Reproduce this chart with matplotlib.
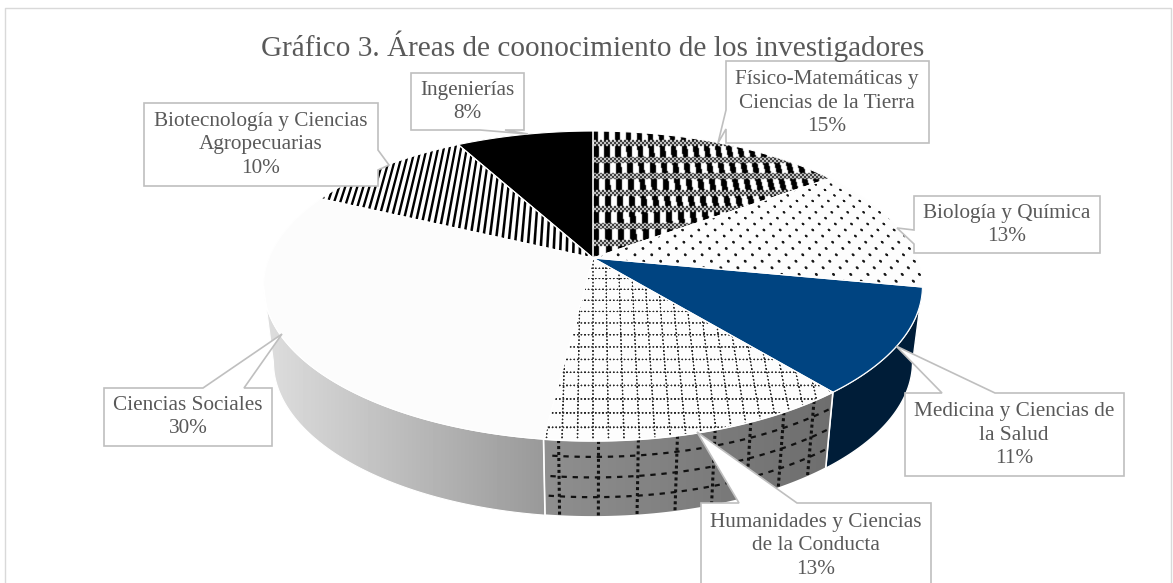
import numpy as np
from matplotlib import pyplot as plt
from matplotlib.patches import Polygon

plt.rcParams['font.family'] = ['Liberation Serif', 'DejaVu Serif']

W, H = 1173, 583

title = "Gráfico 3. Áreas de coonocimiento de los investigadores"
categories = ["Físico-Matemáticas y\nCiencias de la Tierra",
              "Biología y Química",
              "Medicina y Ciencias de\nla Salud",
              "Humanidades y Ciencias\nde la Conducta",
              "Ciencias Sociales",
              "Biotecnología y Ciencias\nAgropecuarias",
              "Ingenierías"]
values = [15, 13, 11, 13, 30, 10, 8]

# the pie is a tilted disc, so map the unit circle through a perspective
CX, APEX_Y = 593, 258
A, C, D = -103.3, 0.1806, 324.0
DEPTH, SHRINK = 76, 0.97
T_LEFT = 259.6  # angle of the leftmost point of the disc


def project(u, v):
    w = 1 + C * v
    return CX + D * u / w, (A * v + APEX_Y) / w


def arc(t0, t1, n=80):
    t = np.radians(np.linspace(t0, t1, n))
    return project(np.sin(t), np.cos(t))


def lower(x, y):
    return CX + (x - CX) * SHRINK, y + DEPTH


# screen pixel grid and the disc coordinates of each pixel
xx, yy = np.meshgrid(np.arange(W) + 0.5, np.arange(H) + 0.5)
vv = (yy - APEX_Y) / (A - C * yy)
uu = (xx - CX) * (1 + C * vv) / D


def soften(img):
    out = img * 0.5
    for ax_, s in [(0, 1), (0, -1), (1, 1), (1, -1)]:
        out = out + np.roll(img, s, axis=ax_) * 0.125
    return out


def tex_fisico():
    img = np.where((uu / 0.0395) % 1 < 0.5, 0.0, 1.0)
    band = ((yy - 140) % 16.6) < 6
    check = ((xx // 2 + yy // 2) % 2) * 1.0
    img = np.where(band, check, img)
    return soften(img)


def tex_dots():
    row = np.floor(vv / 0.043)
    fu = ((uu / 0.052 + 0.5 * (row % 2)) % 1 - 0.5) * 16
    fv = ((vv / 0.043) % 1 - 0.5) * 6
    r = np.sqrt(fu ** 2 + fv ** 2)
    return np.clip(0.1 + (r - 0.9) / 1.0, 0.1, 0.99)


def tex_grid():
    dx = np.abs(((uu / 0.0393 + 0.5) % 1 - 0.5) * 14.3)
    dy = np.abs(((vv / 0.067 + 0.5) % 1 - 0.5) * 12.7)
    dot_y = np.abs((yy % 3.6) - 1.8)
    dot_x = np.abs((xx % 3.6) - 1.8)
    line_v = np.clip(dx - 0.4, 0, 1) + np.clip(dot_y - 0.5, 0, 1)
    line_h = np.clip(dy - 0.4, 0, 1) + np.clip(dot_x - 0.5, 0, 1)
    img = np.minimum(line_v, line_h)
    return np.clip(0.15 + img, 0.15, 0.99)


def tex_stripes():
    d = np.abs(((uu / 0.0204 + 0.5) % 1 - 0.5) * 6.0)
    return np.clip((d - 0.7) / 1.0, 0.0, 1.0)


fig = plt.figure(figsize=(W / 100, H / 100), dpi=100)
ax = fig.add_axes([0, 0, 1, 1])

cum = np.cumsum([0] + values) * 3.6


def clipped_image(img, verts, cmap='gray', vmin=0, vmax=1):
    patch = Polygon(verts, closed=True, fc='none', ec='none', transform=ax.transData)
    ax.add_patch(patch)
    im = ax.imshow(img, extent=(0, W, H, 0), cmap=cmap, vmin=vmin, vmax=vmax,
                   aspect='auto', interpolation='nearest', zorder=3)
    im.set_clip_path(patch)


def side_verts(t0, t1):
    x, y = arc(t0, t1)
    xb, yb = lower(x, y)
    return np.column_stack([np.r_[x, xb[::-1]], np.r_[y, yb[::-1]]])


def wedge_verts(t0, t1):
    x, y = arc(t0, t1)
    return np.column_stack([np.r_[CX, x], np.r_[APEX_Y, y]])


# sides of the disc that face the viewer
t_med0, t_hum0, t_soc0 = cum[2], cum[3], cum[4]

ax.add_patch(Polygon(side_verts(t_med0, t_hum0), fc='#001D38', ec='white', lw=1, zorder=2))

x_hum = arc(t_hum0, t_soc0)[0]
grad = 0.56 - 0.13 * np.clip((xx - x_hum.min()) / (x_hum.max() - x_hum.min()), 0, 1)
clipped_image(grad, side_verts(t_hum0, t_soc0))

x_soc = arc(t_soc0, T_LEFT)[0]
grad = 0.60 + 0.27 * np.clip((x_soc.max() - xx) / (x_soc.max() - x_soc.min()), 0, 1)
clipped_image(grad, side_verts(t_soc0, T_LEFT))

# dashed grid on the Humanidades side
for t in np.arange(185, t_hum0, -5.8):
    x, y = project(np.sin(np.radians(t)), np.cos(np.radians(t)))
    xb, yb = lower(x, y)
    ax.plot([x, xb], [y, yb], color='#111111', lw=2.2, dashes=(1.0, 0.95), zorder=4)
for frac in [0.21, 0.48, 0.74]:
    x, y = arc(t_hum0 + 0.6, t_soc0 - 0.6)
    xb, yb = lower(x, y)
    ax.plot(x + (xb - x) * frac, y + (yb - y) * frac, color='#111111', lw=1.6,
            dashes=(2.4, 2.6), zorder=4)
ax.add_patch(Polygon(side_verts(t_hum0, t_soc0), fc='none', ec='white', lw=1.2, zorder=5))
ax.add_patch(Polygon(side_verts(t_soc0, T_LEFT), fc='none', ec='white', lw=0.8, zorder=5))

# top faces
textures = [tex_fisico(), tex_dots(), None, tex_grid(), None, tex_stripes(), None]
solid = [None, None, '#004481', None, '#FCFCFC', None, '#000000']
for i in range(len(values)):
    verts = wedge_verts(cum[i], cum[i + 1])
    if textures[i] is not None:
        clipped_image(textures[i], verts)
    else:
        ax.add_patch(Polygon(verts, fc=solid[i], ec='none', zorder=3))
    ax.add_patch(Polygon(verts, fc='none', ec='white', lw=0.8, zorder=6))

# callout boxes, outline with the pointer, and the text centre
callouts = [
    ([(726, 61), (929, 61), (929, 143), (726, 143), (726, 129), (718, 143), (726, 110)], (827, 103)),
    ([(914, 196), (1100, 196), (1100, 253), (914, 253), (914, 244), (897, 228), (914, 230)], (1007, 225)),
    ([(905, 393), (942, 393), (896, 346), (995, 393), (1124, 393), (1124, 476), (905, 476)], (1014, 435)),
    ([(701, 503), (739, 503), (697, 432), (797, 503), (931, 503), (931, 590), (701, 590)], (816, 546)),
    ([(104, 388), (203, 388), (282, 334), (244, 388), (272, 388), (272, 446), (104, 446)], (188, 417)),
    ([(144, 103), (378, 103), (378, 150), (389, 165), (378, 170), (378, 186), (144, 186)], (261, 145)),
    ([(411, 73), (524, 73), (524, 130), (505, 130), (528, 134), (480, 130), (411, 130)], (467, 102)),
]
for name, val, (outline, centre) in zip(categories, values, callouts):
    ax.add_patch(Polygon(outline, fc='white', ec='#BFBFBF', lw=1.2, joinstyle='miter', zorder=8))
    ax.text(centre[0], centre[1], name + "\n" + str(val) + "%", ha='center', va='center',
            fontsize=15.3, color='#595959', linespacing=1.35, zorder=9)

ax.text(593, 46, title, ha='center', va='center', fontsize=21.1, color='#595959', zorder=9)

# chart frame
ax.plot([4.5, 4.5, 1171, 1171], [H, 7.5, 7.5, H], color='#D9D9D9', lw=1, zorder=1)

ax.set_xlim(0, W)
ax.set_ylim(H, 0)
ax.axis('off')
fig.savefig('out.png', dpi=100)
